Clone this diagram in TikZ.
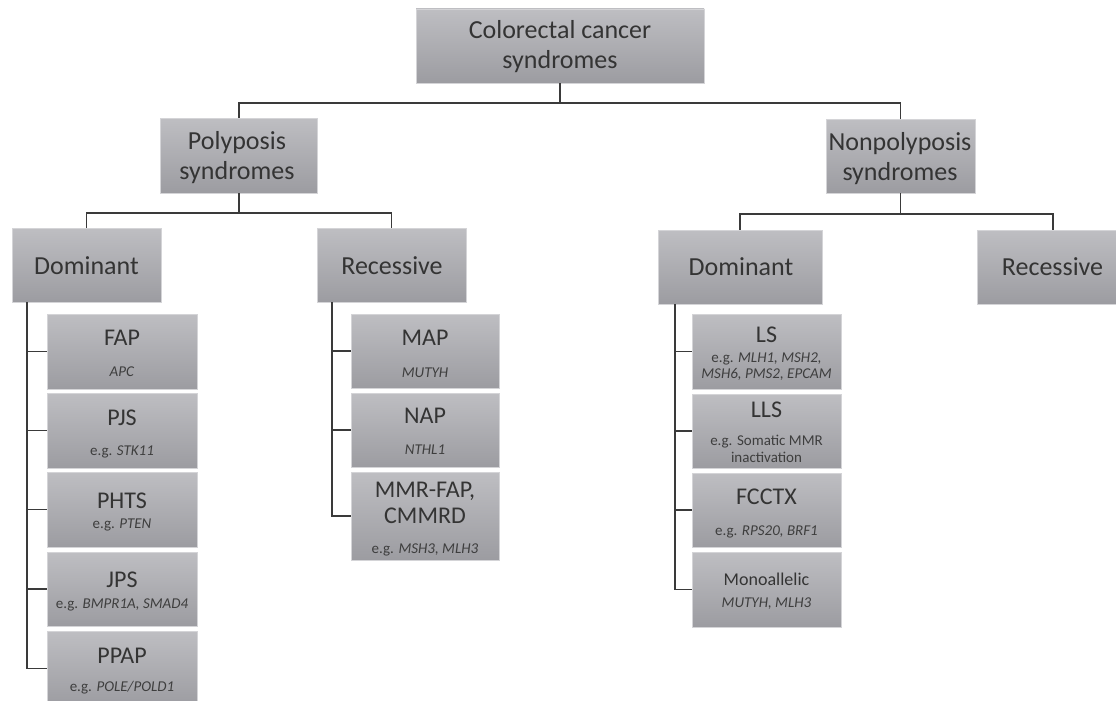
\documentclass[tikz,border=0pt]{standalone}
\usepackage{fontspec}
\setmainfont{Carlito}
\usetikzlibrary{shadows}
\definecolor{boxtop}{RGB}{190,190,194}
\definecolor{boxbot}{RGB}{156,156,161}
\definecolor{boxedge}{RGB}{212,212,215}
\definecolor{ink}{RGB}{52,52,52}
\definecolor{subink}{RGB}{62,62,62}
\definecolor{wire}{RGB}{58,58,58}
\tikzset{
  box/.style 2 args={draw=boxedge, line width=0.7pt, top color=boxtop, bottom color=boxbot,
    inner sep=0pt, minimum width=#1, minimum height=#2,
    drop shadow={shadow xshift=0.8pt, shadow yshift=-0.8pt, fill=black, opacity=0.18}},
  txt/.style={anchor=base, inner sep=0pt, text=ink},
  big/.style={txt, font=\fontsize{26}{30}\selectfont},
  ttl/.style={txt, font=\fontsize{24}{28}\selectfont},
  mid/.style={txt, font=\fontsize{18}{21}\selectfont},
  sub/.style={txt, text=subink, font=\fontsize{15}{17}\selectfont},
  wire/.style={draw=wire, line width=1.3pt}
}
\begin{document}
\begin{tikzpicture}[x=1pt,y=-1pt]
\useasboundingbox (0,0) rectangle (1116,701);
\fill[white] (0,0) rectangle (1116,701);
\clip (0,0) rectangle (1116,701);

% bus coordinates
\coordinate (b1) at (0,103);
\coordinate (b2) at (0,213);
\coordinate (b3) at (0,214);
\coordinate (v1) at (27,0);
\coordinate (v2) at (332,0);
\coordinate (v3) at (675,0);

% level 0
\node[box={288}{74}] (top) at (560,46) {};
\node[big] (topA) at (560,39) {Colorectal cancer};
\node[big] (topB) at (560,69) {syndromes};

% level 1
\node[box={157}{75}] (poly) at (239,155.5) {};
\node[big] (polyA) at (237,149) {Polyposis};
\node[big] (polyB) at (237,179) {syndromes};

\node[box={149}{74}] (nonpoly) at (900.5,156) {};
\node[big] (nonpolyA) at (900,150) {Nonpolyposis};
\node[big] (nonpolyB) at (900,180) {syndromes};

% level 2
\node[box={149}{74}] (pdom) at (86.5,265) {};
\node[big] (pdomT) at (86.5,274) {Dominant};
\node[box={149}{74}] (prec) at (391.5,265) {};
\node[big] (precT) at (392,274) {Recessive};
\node[box={164}{74}] (ndom) at (740,267) {};
\node[big] (ndomT) at (741,275) {Dominant};
\node[box={152}{74}] (nrec) at (1053,267) {};
\node[big] (nrecT) at (1052.5,275) {Recessive};

% polyposis dominant children
\node[box={150}{75}] (fap) at (122,351.5) {};
\node[ttl] (fapT) at (122,345) {FAP};
\node[sub] (fapS) at (122,376.5) {\textit{APC}};
\node[box={150}{75}] (pjs) at (122,430.5) {};
\node[ttl] (pjsT) at (122,425) {PJS};
\node[sub] (pjsS) at (122,455) {e.g. \textit{STK11}};
\node[box={150}{75}] (phts) at (122,509.5) {};
\node[ttl] (phtsT) at (122,508) {PHTS};
\node[sub] (phtsS) at (122,528) {e.g. \textit{PTEN}};
\node[box={150}{74}] (jps) at (122,589) {};
\node[ttl] (jpsT) at (122,587) {JPS};
\node[sub] (jpsS) at (122,608) {e.g. \textit{BMPR1A, SMAD4}};
\node[box={150}{75}] (ppap) at (122,668.5) {};
\node[ttl] (ppapT) at (122,663) {PPAP};
\node[sub] (ppapS) at (122,691) {e.g. \textit{POLE/POLD1}};

% polyposis recessive children
\node[box={148}{74}] (map) at (425,351) {};
\node[ttl] (mapT) at (425,345) {MAP};
\node[sub] (mapS) at (425,377) {\textit{MUTYH}};
\node[box={148}{74}] (nap) at (425,430) {};
\node[ttl] (napT) at (425,423) {NAP};
\node[sub] (napS) at (425,454) {\textit{NTHL1}};
\node[box={148}{88}] (mmr) at (425,516) {};
\node[ttl] (mmrA) at (425,497) {MMR-FAP,};
\node[ttl] (mmrB) at (425,523) {CMMRD};
\node[sub] (mmrS) at (425,553) {e.g. \textit{MSH3, MLH3}};

% nonpolyposis dominant children
\node[box={149}{75}] (ls) at (766.5,351.5) {};
\node[ttl] (lsT) at (766.5,342) {LS};
\node[sub] (lsA) at (766.5,362) {e.g. \textit{MLH1, MSH2,}};
\node[sub] (lsB) at (766.5,378) {\textit{MSH6, PMS2, EPCAM}};
\node[box={149}{74}] (lls) at (766.5,431) {};
\node[ttl] (llsT) at (766.5,417) {LLS};
\node[sub] (llsA) at (766.5,445) {e.g. Somatic MMR};
\node[sub] (llsB) at (766.5,462) {inactivation};
\node[box={149}{74}] (fcc) at (766.5,510) {};
\node[ttl] (fccT) at (766.5,504) {FCCTX};
\node[sub] (fccS) at (766.5,535) {e.g. \textit{RPS20, BRF1}};
\node[box={149}{75}] (mono) at (766.5,589.5) {};
\node[mid] (monoT) at (766.5,585) {Monoallelic};
\node[sub] (monoS) at (766.5,607) {\textit{MUTYH, MLH3}};

% connectors: upper tree
\draw[wire] (top.south) -- (b1 -| top.south);
\draw[wire] (poly.north) |- (b1 -| top.south) -| (nonpoly.north);
\draw[wire] (poly.south) -- (b2 -| poly.south);
\draw[wire] (pdom.north) |- (b2 -| poly.south) -| (prec.north);
\draw[wire] (nonpoly.south) -- (b3 -| nonpoly.south);
\draw[wire] (ndom.north) |- (b3 -| nonpoly.south) -| (nrec.north);

% connectors: columns
\draw[wire] (pdom.south -| v1) |- (ppap.west);
\foreach \n in {fap,pjs,phts,jps} \draw[wire] (\n.west) -- (\n.west -| v1);
\draw[wire] (prec.south -| v2) |- (mmr.west);
\foreach \n in {map,nap} \draw[wire] (\n.west) -- (\n.west -| v2);
\draw[wire] (ndom.south -| v3) |- (mono.west);
\foreach \n in {ls,lls,fcc} \draw[wire] (\n.west) -- (\n.west -| v3);
\end{tikzpicture}
\end{document}
